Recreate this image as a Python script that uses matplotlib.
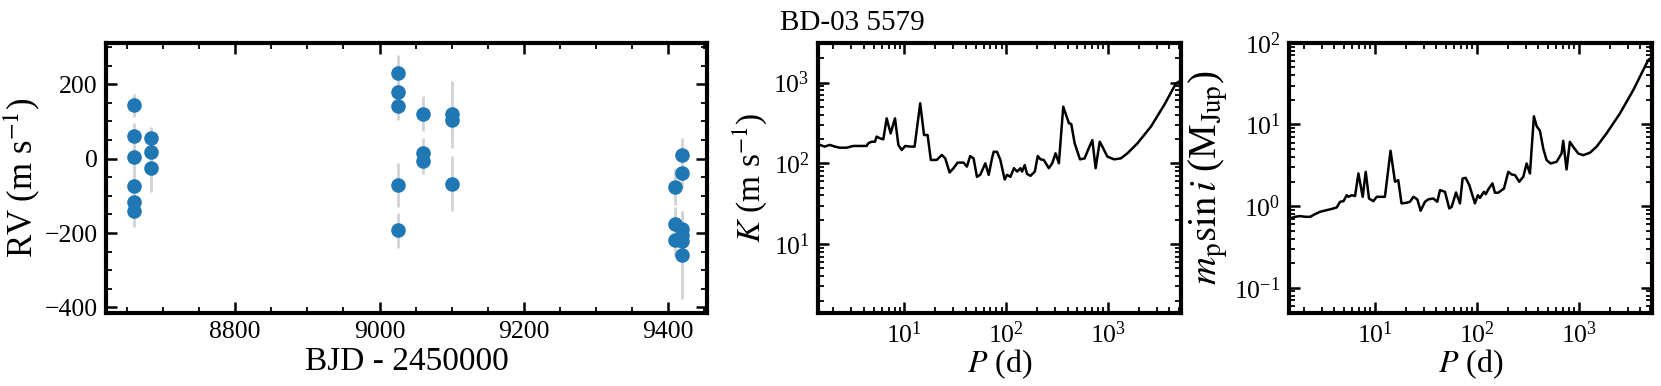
import matplotlib
matplotlib.use('Agg')
import matplotlib.pyplot as plt
from matplotlib.ticker import MultipleLocator, LogLocator, NullFormatter

plt.rcParams['font.family'] = 'serif'
plt.rcParams['font.serif'] = ['Liberation Serif', 'DejaVu Serif']
plt.rcParams['mathtext.fontset'] = 'stix'

# radial velocities, one list per night cluster
bjd = [8660, 8660, 8660, 8660, 8660, 8660,
       8684, 8684, 8684,
       9026, 9026, 9026, 9026, 9026,
       9060, 9060, 9060,
       9100, 9100, 9100,
       9409, 9409, 9409,
       9419, 9419, 9419, 9419, 9419, 9419]
rv = [143, 60, 4, -73, -116, -140,
      56, 18, -24,
      229, 180, 141, -71, -193,
      121, 15, -6,
      119, 105, -67,
      -76, -175, -218,
      10, -40, -190, -205, -222, -258]
rv_err = [30, 35, 40, 45, 40, 44,
          30, 35, 65,
          50, 35, 38, 58, 47,
          47, 40, 35,
          90, 40, 73,
          50, 45, 45,
          45, 40, 50, 45, 45, 118]

# detection limits (K and minimum mass) versus period
period_k = [1.48, 1.65, 1.85, 2.08, 2.32, 2.70, 3.15, 3.66, 4.26, 4.42, 4.76, 5.14,
            5.34, 5.75, 6.21, 6.70, 7.33, 8.09, 8.73, 9.41, 10.2, 11.4, 12.6, 14.3,
            15.6, 16.9, 18.2, 20.8, 23.3, 25.2, 27.8, 30.4, 33.3, 38.1, 41.1, 44.3,
            47.8, 51.6, 55.6, 62.4, 67.3, 72.5, 75.3, 81.2, 87.6, 96.6, 102, 110,
            119, 128, 138, 143, 152, 160, 173, 191, 204, 217, 234, 262, 283, 305,
            329, 363, 413, 435, 470, 530, 589, 635, 701, 755, 828, 879, 985, 1145,
            1333, 1550, 1945, 2632, 3560, 4645, 5200]
k_lim = [169, 161, 169, 161, 156, 156, 164, 164, 164, 177, 185, 185,
         214, 204, 198, 360, 235, 360, 169, 146, 164, 161, 161, 553,
         224, 224, 110, 110, 127, 115, 77, 87, 102, 102, 91, 123,
         115, 68, 72, 100, 72, 115, 139, 139, 110, 63, 72, 68,
         87, 79, 87, 79, 95, 74, 70, 79, 123, 112, 110, 87, 100, 133,
         100, 502, 313, 307, 177, 112, 115, 146, 194, 87, 185, 161, 121, 112,
         115, 133, 177, 284, 527, 977, 1060]

period_m = [1.47, 1.64, 1.84, 2.06, 2.31, 2.58, 2.89, 3.36, 3.91, 4.21, 4.54, 4.90,
            5.28, 5.48, 5.91, 6.37, 6.87, 7.57, 8.10, 8.73, 9.63, 10.4, 11.6, 12.5,
            14.2, 15.7, 16.9, 18.2, 20.4, 22.0, 23.8, 26.0, 28.0, 30.9, 33.3, 37.3,
            40.8, 43.4, 48.5, 53.5, 56.5, 62.3, 68.1, 72.3, 77.4, 84.1, 95.5, 102,
            107, 117, 122, 129, 142, 150, 162, 175, 184, 203, 219, 236, 260, 285,
            307, 331, 362, 385, 415, 447, 482, 528, 604, 676, 702, 757, 816, 879,
            985, 1102, 1282, 1489, 1866, 2523, 3411, 4786, 5200]
m_lim = [0.706, 0.740, 0.755, 0.740, 0.740, 0.798, 0.852, 0.893, 0.936, 0.963, 1.13, 1.15,
         1.36, 1.30, 1.36, 1.33, 2.51, 1.30, 2.63, 1.24, 1.15, 1.30, 1.30, 1.30,
         4.76, 1.99, 2.08, 1.08, 1.10, 1.13, 1.30, 1.21, 0.877, 1.13, 1.21, 1.24,
         1.13, 1.57, 1.50, 0.936, 0.98, 1.47, 1.08, 2.18, 2.22, 1.81, 1.08, 1.36,
         1.26, 1.50, 1.40, 1.60, 1.90, 1.46, 1.46, 1.57, 1.64, 2.63, 2.44, 2.40, 1.99, 2.29,
         3.33, 2.51, 12.6, 9.55, 8.36, 5.08, 3.66, 3.33, 3.49, 4.41, 6.31, 2.81, 6.13, 5.33,
         4.41, 4.21, 4.50, 5.33, 7.76, 13.6, 26.3, 61.4, 67]

target = 'BD-03 5579'


def style_axes(ax):
    for s in ax.spines.values():
        s.set_linewidth(3)
    ax.tick_params(which='both', direction='in', top=True, right=True, labelsize=18.5)
    ax.tick_params(which='major', length=8, width=1.8, pad=6)
    ax.tick_params(which='minor', length=4, width=1.3)


fig = plt.figure(figsize=(16.61, 3.86), dpi=100)
ax1 = fig.add_axes([0.0638, 0.189, 0.362, 0.70])
ax2 = fig.add_axes([0.4925, 0.189, 0.2185, 0.70])
ax3 = fig.add_axes([0.776, 0.189, 0.2185, 0.70])

ax1.errorbar(bjd, rv, yerr=rv_err, fmt='o', color='#1f77b4', ms=10.5, mew=0,
             ecolor='lightgray', elinewidth=2, capsize=0)
ax1.set_xlim(8621, 9454)
ax1.set_ylim(-415, 311)
ax1.xaxis.set_major_locator(MultipleLocator(200))
ax1.xaxis.set_minor_locator(MultipleLocator(50))
ax1.yaxis.set_major_locator(MultipleLocator(200))
ax1.yaxis.set_minor_locator(MultipleLocator(50))
ax1.set_xlabel('BJD - 2450000', fontsize=24, labelpad=2)
ax1.set_ylabel(r'RV (m s$^{-1}$)', fontsize=25, labelpad=2)
style_axes(ax1)

ax2.plot(period_k, k_lim, color='black', lw=1.8)
ax2.set_xscale('log')
ax2.set_yscale('log')
ax2.set_xlim(1.42, 5200)
ax2.set_ylim(1.4, 3100)
ax2.set_xlabel(r'$P$ (d)', fontsize=23, labelpad=0)
ax2.set_ylabel(r'$K$ (m s$^{-1}$)', fontsize=24, labelpad=3)

ax3.plot(period_m, m_lim, color='black', lw=1.8)
ax3.set_xscale('log')
ax3.set_yscale('log')
ax3.set_xlim(1.43, 5200)
ax3.set_ylim(0.049, 100)
ax3.set_xlabel(r'$P$ (d)', fontsize=23, labelpad=0)
ax3.set_ylabel(r'$m_{\rm p} \sin i$ (M$_{\rm Jup}$)', fontsize=28, labelpad=3)

for ax in (ax2, ax3):
    ax.xaxis.set_major_locator(LogLocator(base=10, numticks=10))
    ax.xaxis.set_minor_locator(LogLocator(base=10, subs=range(2, 10), numticks=20))
    ax.yaxis.set_minor_locator(LogLocator(base=10, subs=range(2, 10), numticks=20))
    ax.xaxis.set_minor_formatter(NullFormatter())
    ax.yaxis.set_minor_formatter(NullFormatter())
    style_axes(ax)

fig.text(0.513, 0.922, target, fontsize=21, ha='center', va='baseline')

fig.savefig('out.png', dpi=100)
